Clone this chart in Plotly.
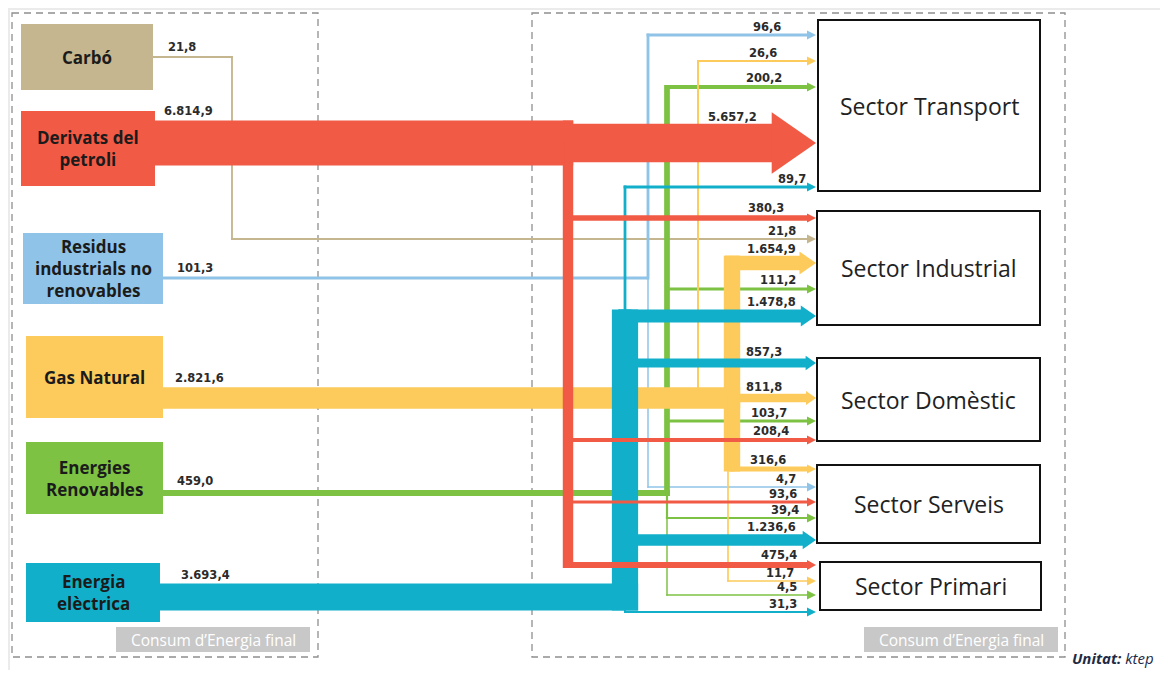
import plotly.graph_objects as go

# Final energy consumption by source and sector (ktep)
SOURCES = ["Carbó", "Derivats del<br>petroli", "Residus<br>industrials no<br>renovables",
           "Gas Natural", "Energies<br>Renovables", "Energia<br>elèctrica"]
SOURCE_TOTALS = [21.8, 6814.9, 101.3, 2821.6, 459.0, 3693.4]
SECTORS = ["Sector Transport", "Sector Industrial", "Sector Domèstic",
           "Sector Serveis", "Sector Primari"]

# one entry per arrow: source index, sector index, value
FLOW_SOURCE = [0, 1, 1, 1, 1, 1, 2, 2, 3, 3, 3, 3, 3, 4, 4, 4, 4, 4, 5, 5, 5, 5, 5]
FLOW_SECTOR = [1, 0, 1, 2, 3, 4, 0, 3, 0, 1, 2, 3, 4, 0, 1, 2, 3, 4, 0, 1, 2, 3, 4]
FLOW_VALUE = [21.8, 5657.2, 380.3, 208.4, 93.6, 475.4, 96.6, 4.7, 26.6, 1654.9, 811.8,
              316.6, 11.7, 200.2, 111.2, 103.7, 39.4, 4.5, 89.7, 1478.8, 857.3, 1236.6, 31.3]

UNIT = "ktep"
PANEL_LABEL = "Consum d’Energia final"

# ---- drawing layout (pixel space, y grows downwards) ----
SOURCE_COLORS = ["#c5b68f", "#f15a45", "#8fc4e8", "#fdcb5b", "#7dc243", "#12afca"]
SOURCE_BOX = [(21, 153, 24, 90), (21, 155, 111, 186), (23, 163, 233, 304),
              (26, 163, 336, 418), (26, 163, 442, 514), (26, 160, 563, 622)]
SOURCE_EXIT_Y = [57, 143, 278, 398, 493, 597]
SOURCE_LABEL_X = [167, 163, 176, 174, 176, 180]
SECTOR_BOX = [(818, 1040, 20, 191), (817, 1040, 211, 325), (817, 1040, 358, 441),
              (817, 1040, 465, 543), (820, 1041, 562, 610)]
FLOW_Y = [239, 143, 218, 440, 502, 565, 35, 487, 61, 263, 398, 469, 581,
          87, 289, 421, 518, 595, 187, 316, 363, 540, 612]
FLOW_LANE = [232, None, 568, 568, 568, 568, 648, 648, 698, 732, None, 732, 728,
             667, 667, 667, 667, 667, 625, 625, 625, 625, 625]
FLOW_LABEL_X = [797, 758, 785, 790, 798, 798, 782, 797, 778, 797, 783, 787, 795,
                783, 797, 788, 800, 798, 807, 797, 783, 797, 798]
ARROW_TIP = 816
DRAW_ORDER = [0, 2, 4, 3, 5, 1]  # red bands sit on top of everything
FONT = "Open Sans, Lato, sans-serif"
NUM_FONT = "DejaVu Sans, sans-serif"
# the page body adds an 8px margin, so the figure is drawn smaller and offset
PAGE_MARGIN = 8


def band_width(v):
    """Stroke thickness (px) for a flow of v ktep."""
    return 1.2 + 0.005 * v + 0.12 * v ** 0.5


def fmt(v):
    s = f"{v:,.1f}"
    return s.replace(",", "X").replace(".", ",").replace("X", ".")


def rect(x0, x1, y0, y1, color):
    return dict(type="rect", xref="x", yref="y", x0=x0, x1=x1, y0=y0, y1=y1,
                fillcolor=color, line=dict(width=0), layer="above")


shapes = []
annotations = []

# white panel and dashed frames
shapes.append(dict(type="rect", xref="x", yref="y", x0=10, x1=1170, y0=10, y1=676,
                   fillcolor="white", line=dict(width=0), layer="below"))
for x0, x1 in [(12, 318), (532, 1065)]:
    shapes.append(dict(type="rect", xref="x", yref="y", x0=x0, x1=x1, y0=13, y1=657,
                       line=dict(color="#8f8f8f", width=1.3, dash="7px,5px"), layer="below"))

for s in DRAW_ORDER:
    color = SOURCE_COLORS[s]
    flows = [i for i, fs in enumerate(FLOW_SOURCE) if fs == s]
    sy = SOURCE_EXIT_Y[s]
    sw = band_width(SOURCE_TOTALS[s])
    bx = SOURCE_BOX[s][1]

    # shared vertical trunk for the main (>=100 ktep) branches
    members = [i for i in flows if FLOW_LANE[i] is not None and FLOW_VALUE[i] >= 100]
    tw = 0
    if members:
        lane = FLOW_LANE[members[0]]
        tw = band_width(sum(FLOW_VALUE[i] for i in members))
        top = min([FLOW_Y[i] - band_width(FLOW_VALUE[i]) / 2 for i in members] + [sy - sw / 2])
        bot = max([FLOW_Y[i] + band_width(FLOW_VALUE[i]) / 2 for i in members] + [sy + sw / 2])
        shapes.append(rect(lane - tw / 2, lane + tw / 2, top, bot, color))

    lanes = [FLOW_LANE[i] for i in flows if FLOW_LANE[i] is not None]
    if lanes:
        shapes.append(rect(bx, max(lanes) + max(tw, band_width(min(SOURCE_TOTALS[s], 30))) / 2,
                           sy - sw / 2, sy + sw / 2, color))

    for i in flows:
        v = FLOW_VALUE[i]
        w = band_width(v)
        ty = FLOW_Y[i]
        head_len = max(9, 1.15 * w)
        head_half = max(4.5, 0.8 * w)
        lane = FLOW_LANE[i]
        if lane is None:
            x_start = bx
        else:
            shapes.append(rect(lane - w / 2, lane + w / 2,
                               min(sy, ty) - w / 2, max(sy, ty) + w / 2, color))
            x_start = lane - w / 2
        shapes.append(rect(x_start, ARROW_TIP - head_len + 0.5, ty - w / 2, ty + w / 2, color))
        x0 = ARROW_TIP - head_len
        shapes.append(dict(type="path", xref="x", yref="y",
                           path=f"M {x0},{ty - head_half} L {ARROW_TIP},{ty} L {x0},{ty + head_half} Z",
                           fillcolor=color, line=dict(width=0), layer="above"))
        annotations.append(dict(x=FLOW_LABEL_X[i], y=ty - w / 2 + 1, xref="x", yref="y",
                                text=f"<b>{fmt(v)}</b>", showarrow=False, borderpad=0,
                                xanchor="right", yanchor="bottom",
                                font=dict(family=NUM_FONT, size=11.5, color="#2b2b2b")))

# source boxes
for s, name in enumerate(SOURCES):
    x0, x1, y0, y1 = SOURCE_BOX[s]
    shapes.append(rect(x0, x1, y0, y1, SOURCE_COLORS[s]))
    annotations.append(dict(x=(x0 + x1) / 2, y=(y0 + y1) / 2, xref="x", yref="y",
                            text=f"<b>{name}</b>", showarrow=False,
                            font=dict(family=FONT, size=17, color="#1b1b1b")))
    sw = band_width(SOURCE_TOTALS[s])
    annotations.append(dict(x=SOURCE_LABEL_X[s], y=SOURCE_EXIT_Y[s] - sw / 2 - 1,
                            xref="x", yref="y", text=f"<b>{fmt(SOURCE_TOTALS[s])}</b>",
                            showarrow=False, xanchor="left", yanchor="bottom", borderpad=0,
                            font=dict(family=NUM_FONT, size=11.5, color="#2b2b2b")))

# sector boxes
for k, name in enumerate(SECTORS):
    x0, x1, y0, y1 = SECTOR_BOX[k]
    shapes.append(dict(type="rect", xref="x", yref="y", x0=x0, x1=x1, y0=y0, y1=y1,
                       fillcolor="white", line=dict(color="#111111", width=2), layer="above"))
    annotations.append(dict(x=(x0 + x1) / 2, y=(y0 + y1) / 2, xref="x", yref="y",
                            text=name, showarrow=False,
                            font=dict(family=FONT, size=23, color="#222222")))

# panel captions
for x0, x1 in [(116, 310), (864, 1058)]:
    shapes.append(rect(x0, x1, 627, 652, "#c8c8c8"))
    annotations.append(dict(x=(x0 + x1) / 2, y=639.5, xref="x", yref="y", text=PANEL_LABEL,
                            showarrow=False, font=dict(family=FONT, size=15.5, color="white")))

annotations.append(dict(x=1156, y=658, xref="x", yref="y",
                        text=f"<b><i>Unitat:</i></b><i> {UNIT}</i>", showarrow=False,
                        xanchor="right", font=dict(family=FONT, size=15, color="#1f2a44")))

fig = go.Figure(go.Scatter(x=[PAGE_MARGIN, 1160], y=[PAGE_MARGIN, 670], mode="markers",
                           marker=dict(opacity=0), hoverinfo="skip", showlegend=False))
fig.update_layout(
    width=1168 - 2 * PAGE_MARGIN, height=678 - 2 * PAGE_MARGIN, autosize=False,
    margin=dict(l=0, r=0, t=0, b=0),
    paper_bgcolor="#ebebeb", plot_bgcolor="#ebebeb",
    xaxis=dict(range=[PAGE_MARGIN, 1168 - PAGE_MARGIN], visible=False, fixedrange=True),
    yaxis=dict(range=[678 - PAGE_MARGIN, PAGE_MARGIN], visible=False, fixedrange=True),
    shapes=shapes, annotations=annotations, showlegend=False,
)
fig.write_html("out.html")
